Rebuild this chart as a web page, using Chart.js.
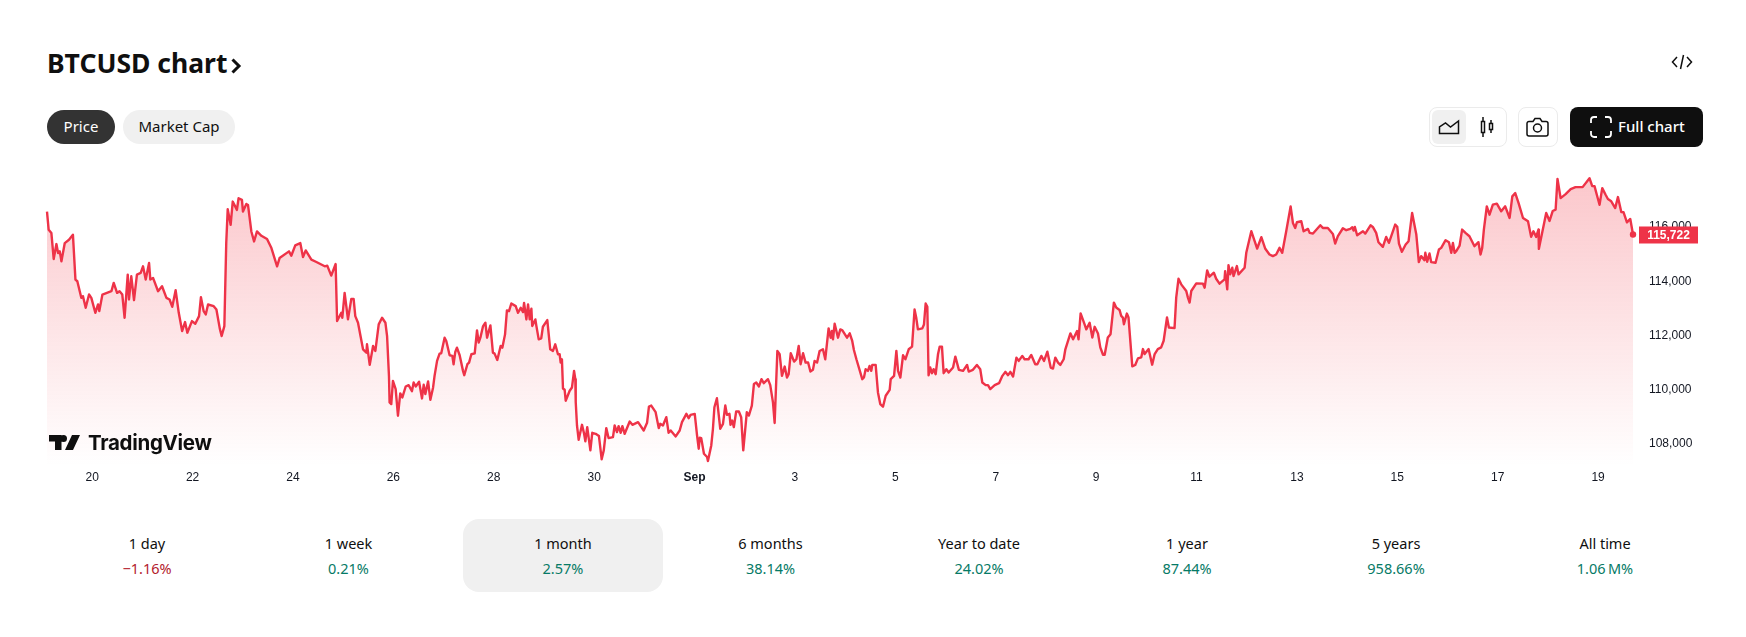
<!DOCTYPE html>
<html lang="en">
<head>
<meta charset="utf-8">
<title>BTCUSD chart</title>
<script src="https://cdn.jsdelivr.net/npm/chart.js@4"></script>
<style>
  html, body { margin: 0; background: #fff; }
  body { position: relative; width: 1746px; height: 637px; overflow: hidden; font-family: "Noto Sans", sans-serif; color: #0f0f0f; }
  .abs { position: absolute; }
  h1 { position: absolute; left: 47px; top: 44px; margin: 0; font-size: 26.5px; line-height: 38px; font-weight: 700; white-space: nowrap; }
  .pill { position: absolute; top: 110px; height: 34px; line-height: 33px; border-radius: 17px; text-align: center; font-size: 15px; }
  .box { position: absolute; top: 107px; height: 38px; border: 1px solid #ebebeb; border-radius: 8px; background: #fff; }
  #full { position: absolute; left: 1570px; top: 107px; width: 133px; height: 40px; border-radius: 8px; background: #0f0f0f; color: #fff; font-size: 15px; font-weight: 500; line-height: 39px; }
  #full span { position: absolute; left: 48px; }
  #chart { position: absolute; left: 0; top: 140px; }
  #logo { position: absolute; left: 49px; top: 429px; height: 26px; display: flex; align-items: center; }
  #logo span { font-family: Inter, sans-serif; font-weight: 700; font-size: 20.5px; letter-spacing: -0.3px; margin-left: 8px; }
  #active { position: absolute; left: 463px; top: 519px; width: 200px; height: 73px; border-radius: 16px; background: #f0f0f0; }
  .period { position: absolute; top: 531px; width: 200px; text-align: center; font-size: 14.5px; line-height: 25px; white-space: nowrap; }
  .period b { display: block; font-weight: 400; }
  .up { color: #067a66; }
  .down { color: #b3202c; }
</style>
</head>
<body>
<h1>BTCUSD chart</h1>
<svg class="abs" style="left:230px;top:55px" width="12" height="22" viewBox="0 0 12 22"><path d="M2.500 4.500 9 11l-6.500 6.500" fill="none" stroke="#0f0f0f" stroke-width="3"/></svg>
<svg class="abs" style="left:1671px;top:52px" width="22" height="20" viewBox="0 0 22 20" fill="none" stroke="#0f0f0f" stroke-width="1.5"><path d="M6 5 1.500 10 6 15M16 5l4.500 5L16 15M12.500 3l-3 14"/></svg>

<div class="pill" style="left:47px;width:68px;background:#333;color:#fff">Price</div>
<div class="pill" style="left:123px;width:112px;background:#f0f0f0">Market Cap</div>

<div class="box" style="left:1429px;width:76px"></div>
<div class="abs" style="left:1432px;top:110px;width:34px;height:34px;border-radius:6px;background:#f0f0f0"></div>
<svg class="abs" style="left:1438px;top:118px" width="22" height="18" viewBox="0 0 22 18" fill="none" stroke="#0f0f0f" stroke-width="1.5"><path d="M1.500 15.500V9l6-4 5 4 8-6v12.500z"/></svg>
<svg class="abs" style="left:1479px;top:116px" width="16" height="22" viewBox="0 0 16 22" fill="none" stroke="#0f0f0f" stroke-width="1.500"><path d="M2.500 5.500h3v11h-3zM4 1v4.500M4 16.500V21M10.500 7.500h3v6h-3zM12 4v3.500M12 13.500V17"/></svg>
<div class="box" style="left:1518px;width:38px"></div>
<svg class="abs" style="left:1526px;top:117px" width="23" height="20" viewBox="0 0 23 20" fill="none" stroke="#0f0f0f" stroke-width="1.500"><path d="M3 4.500h4l2-3h5l2 3h4a2 2 0 0 1 2 2V17a2 2 0 0 1-2 2H3a2 2 0 0 1-2-2V6.500a2 2 0 0 1 2-2z"/><circle cx="11.500" cy="11" r="4"/></svg>
<div id="full">
  <svg class="abs" style="left:20px;top:9px" width="22" height="22" viewBox="0 0 22 22" fill="none" stroke="#fff" stroke-width="1.800"><path d="M1 7V4a3 3 0 0 1 3-3h3M15 1h3a3 3 0 0 1 3 3v3M21 15v3a3 3 0 0 1-3 3h-3M7 21H4a3 3 0 0 1-3-3v-3"/></svg>
  <span>Full chart</span>
</div>

<canvas id="chart" width="1746" height="352"></canvas>

<div id="logo">
  <svg width="31" height="15" viewBox="0 0 31 15" fill="#0f0f0f"><path d="M0 0h12.500v15H6V6.500H0zM14.500 0a3.500 3.500 0 1 1 0 7 3.500 3.500 0 0 1 0-7zM23 0h8l-7 15h-8z"/></svg>
  <span>TradingView</span>
</div>

<div id="active"></div>
<div id="periods"></div>

<script>
// hours counted from 19 Aug 00:00
const hours = [
  2.4, 3.2, 4.5, 5.6, 6.9, 7.7, 8.5, 9.3, 10.9, 12.9, 14.8, 16, 16.9, 18.8, 19.6, 20.9, 22.5, 23.6, 25.5, 26.8,
  27.4, 28.9, 33.2, 34.3, 35.9, 37.1, 38.4, 39.5, 41, 41.6, 42.7, 44, 45.4, 47.2, 48.3, 49.6, 51.2, 51.8, 53.1, 55.5,
  57.4, 59.5, 61, 62.3, 63.9, 65.4, 67, 68.4, 69.5, 71.7, 73.3, 75.1, 76, 77.3, 78.3, 79.4, 82.1, 83.4, 85, 85.9,
  87.2, 88.1, 88.8, 90.2, 91.2, 93.2, 94, 95.6, 96.1, 97.7, 98.5, 100.1, 101.4, 102.8, 104.9, 107.6, 109.7, 112.4, 113.6, 118.1,
  119.2, 121.1, 123.5, 124.8, 126.1, 128.8, 131.2, 135.2, 136.4, 138.3, 140.4, 141.1, 143.1, 143.6, 144.7, 146.3, 147.9, 149, 149.8, 151.1,
  153.5, 155.1, 155.4, 156.7, 158.3, 159.4, 161, 162.6, 164.2, 165, 165.9, 166.2, 167, 167.8, 169.1, 170.2, 171.3, 172.3, 173.9, 175.3,
  176.9, 177.7, 178.7, 180.3, 181.7, 182.5, 183.3, 184.6, 185.7, 187, 187.7, 188.9, 190.1, 190.9, 192.5, 193.3, 194.9, 196.2, 196.8, 197.6,
  198.4, 199.7, 201.3, 201.9, 203.4, 204.2, 205.3, 206.9, 208, 208.8, 209.6, 210.9, 212, 212.8, 214.4, 215.6, 216.4, 217.7, 219.3, 220.1,
  221.4, 222.3, 223.3, 224.4, 226.5, 227.6, 228.9, 230, 230.5, 231.6, 232.4, 233.2, 234, 234.4, 235.9, 236.4, 237.5, 238.7, 239.5, 241.6,
  243, 244.3, 245.4, 246.7, 247.5, 248, 248.6, 249.1, 249.9, 250.4, 252.3, 253.4, 254.4, 255, 255.2, 255.8, 256.6, 258.2, 259.2, 259.8,
  260.7, 262.2, 263.1, 264.7, 266.3, 267.6, 268.6, 269.8, 270.9, 273, 273.8, 274.9, 275.7, 276.7, 277.5, 278.6, 281, 282.3, 285, 287.7,
  289.3, 290.2, 291.3, 293.4, 294.9, 295.6, 296.9, 298.5, 299.6, 300.6, 303, 304.9, 306, 308.1, 309.2, 310.1, 312.1, 313.2, 314, 314.5,
  315.2, 316.5, 318, 318.4, 320, 320.8, 321.5, 322.7, 324.3, 325.6, 326.7, 327.5, 328.7, 329.2, 330, 330.8, 331.9, 333.2, 334.3, 335.3,
  337, 338, 339.4, 340.4, 341.5, 342.8, 344, 345.1, 347.1, 348.2, 349.5, 350.3, 351.6, 352.7, 353.8, 355.1, 356.2, 357, 358, 359.6,
  360.7, 361.8, 362.7, 363.9, 365.1, 366.3, 367.4, 368.6, 369.4, 370.6, 371.8, 373.4, 374.5, 376.1, 377.1, 377.7, 378.2, 379, 380.6, 381.7,
  382.7, 384.9, 386.2, 387.4, 388.2, 389.4, 392.2, 393, 393.8, 394.9, 395.7, 396.5, 397, 398.6, 399.7, 400.8, 402.1, 403.4, 405.3, 405.8,
  407.4, 408.5, 409.3, 410.4, 411.7, 412.8, 414.4, 416, 417.2, 418, 418.8, 420.9, 421.7, 422.5, 423.3, 423.9, 424.7, 425.5, 426.3, 427.3,
  428.4, 429.2, 430.3, 431.1, 432.4, 433.5, 435.6, 436.7, 438.4, 440.4, 442.3, 443.1, 445.1, 447, 448.6, 449.6, 451.2, 452.3, 453.4, 455.5,
  457.6, 459.2, 460.6, 461.9, 463, 464.3, 465.9, 467, 468.7, 469.8, 471.7, 473, 474.9, 475.9, 477.8, 479.1, 480.7, 482.3, 483.4, 484.5,
  485.8, 486.9, 488.5, 489.3, 491.7, 493, 494.9, 495.6, 496.6, 498.5, 499.3, 500.9, 502.2, 503.3, 504.9, 506, 507.3, 508.1, 509.6, 510.9,
  512.5, 513.6, 515.2, 516, 516.8, 517.3, 518.7, 519.5, 521.3, 522.7, 524, 525.6, 526.4, 527.2, 529.1, 530.8, 532, 533.5, 535.1, 536.3,
  537.9, 538.8, 541.5, 542.3, 543.4, 544.7, 547.1, 547.9, 548.7, 549.5, 551.9, 555.1, 555.9, 557.1, 558.2, 560.3, 561.4, 563, 565.4, 565.7,
  566.7, 567.3, 568.1, 569.1, 569.7, 571.3, 572.1, 575, 575.8, 578.2, 579.8, 581, 583, 584.9, 586.9, 588.5, 590.1, 591.7, 593, 594.9,
  597, 598.1, 599.2, 600, 602.1, 603.2, 605.3, 606.1, 607.7, 611.2, 612.4, 614.8, 617.2, 618.3, 619.6, 622, 623.6, 625.5, 626.5, 627.1,
  627.7, 628.8, 631.6, 632.7, 635.2, 636.3, 637.9, 639, 641.1, 642.7, 644, 647, 648, 648.8, 650.2, 652, 653.4, 655.1, 657.1, 658.3,
  659.4, 661, 661.4, 662.3, 663.4, 664.2, 666.3, 667.9, 669, 671.1, 672.7, 673.8, 674.6, 675.4, 676.2, 677.8, 679, 680.6, 682.5, 684.9,
  686.8, 687.8, 688.6, 689.4, 690.8, 692.1, 693.7, 695.6, 697.7, 699.6, 701.7, 703, 704.4, 706, 708.1, 710.5, 712, 713.1, 714.4, 715.5,
  715.7, 719.2, 720.8, 722.3, 723.7, 724.6, 726.1, 728.5, 730.9, 733.2, 736.6, 739.9, 741.2, 742.3, 743.4, 744.7, 746, 747.6, 748.7, 750.3,
  752.2, 753.5, 755.1, 756.2, 757.8, 759.4, 760.7
];

const prices = [
  116568, 115895, 115773, 114819, 115369, 115039, 115100, 114733, 115406, 115528, 115712, 114060, 113999, 113388, 113449, 113021, 113510, 113388, 112837, 113143,
  112899, 113510, 113632, 113938, 113571, 113632, 113510, 112654, 114244, 113327, 114183, 113302, 114244, 114305, 114550, 114060, 114672, 114060, 114122, 113632,
  113816, 113388, 113327, 113057, 113669, 112837, 112165, 112495, 112104, 112532, 112434, 112715, 113412, 112899, 112776, 113143, 113082, 112960, 112263, 111981,
  112348, 115406, 116653, 116078, 116935, 116629, 117057, 116996, 116568, 116849, 116812, 115834, 115467, 115834, 115675, 115553, 115222, 114550, 114855, 115100,
  114941, 115320, 115406, 114892, 115137, 114794, 114709, 114550, 114574, 114207, 114635, 112532, 112837, 112654, 113571, 112593, 113351, 113351, 112715, 112471,
  111492, 111370, 111676, 110917, 111615, 111431, 112409, 112654, 112471, 111981, 110514, 109535, 109475, 110330, 110025, 109046, 109866, 109719, 110122, 110171,
  109951, 110269, 110122, 110294, 109682, 110184, 109841, 110306, 109633, 110086, 110514, 111064, 111333, 111345, 111920, 111798, 111272, 111248, 110942, 111394,
  111553, 111272, 110697, 110538, 110942, 111003, 111309, 111345, 112189, 111737, 111920, 112348, 112471, 111920, 112373, 111370, 111333, 111101, 111615, 111553,
  112042, 112923, 112899, 113180, 113082, 112837, 113021, 112862, 113204, 112593, 113143, 112593, 112984, 112348, 112593, 112348, 111859, 111896, 112324, 112568,
  111492, 111431, 111676, 111309, 111309, 111003, 111125, 110049, 110000, 109597, 109963, 110086, 110697, 110392, 109541, 108685, 108159, 108709, 108379, 108098,
  108624, 107768, 108416, 108379, 108294, 107437, 107768, 108587, 108220, 108257, 108685, 108440, 108660, 108416, 108660, 108379, 108832, 108709, 108807, 108501,
  108783, 109382, 109419, 109174, 108587, 108746, 108685, 108991, 108416, 108501, 108281, 108501, 108807, 109113, 108954, 109076, 109113, 108318, 107829, 108232,
  108220, 107645, 107523, 107376, 107951, 108563, 109358, 109688, 108563, 108746, 109419, 109076, 109113, 108710, 108868, 108624, 109199, 109199, 108991, 107768,
  109174, 109052, 109419, 110214, 110269, 110122, 110392, 110245, 110392, 110171, 109535, 108777, 111431, 111309, 110514, 110856, 110453, 110575, 111345, 111040,
  111125, 111615, 110942, 111345, 111003, 111003, 110673, 110734, 111064, 111003, 111431, 111492, 111125, 112263, 111920, 112165, 111859, 112434, 111920, 112226,
  112189, 111920, 112079, 111798, 111468, 111125, 110392, 110453, 110758, 110697, 110881, 110697, 110917, 110917, 109902, 109474, 109376, 109780, 110000, 110392,
  110514, 111431, 110697, 110453, 111272, 111125, 111492, 111590, 112960, 112654, 112226, 112263, 112409, 113180, 113058, 110538, 110820, 110612, 110758, 110575,
  111309, 111590, 111590, 110612, 110758, 110636, 110820, 111223, 110734, 110697, 110917, 110673, 110734, 110917, 110758, 110269, 110171, 110171, 110025, 110171,
  110245, 110514, 110660, 110538, 110660, 110489, 111186, 111064, 111248, 111125, 111125, 111284, 110942, 110942, 111248, 111064, 111406, 110820, 110783, 111186,
  111003, 110917, 111125, 111492, 112079, 111859, 112165, 111859, 112813, 112409, 112226, 112471, 111928, 112320, 112075, 111561, 111292, 111292, 111928, 112050,
  113212, 113029, 112943, 112723, 112662, 112417, 112809, 112662, 110864, 110913, 111158, 111195, 111500, 111317, 111500, 110925, 111317, 111500, 111561, 111806,
  112662, 112295, 112271, 113396, 114093, 113885, 113640, 113396, 113212, 113640, 113922, 113910, 113763, 114399, 114166, 114313, 114093, 113910, 114069, 114374,
  113702, 114594, 114252, 114497, 114191, 114558, 114252, 114497, 115047, 115842, 115475, 115206, 115622, 115194, 114986, 114925, 114986, 115230, 115047, 115842,
  116759, 116148, 115964, 116172, 116209, 115842, 115928, 115781, 115756, 116062, 115964, 115964, 115744, 115389, 115659, 115952, 115879, 115928, 115989, 115866,
  116001, 115695, 115842, 115756, 116062, 116001, 115781, 115438, 115267, 115634, 115414, 116087, 116001, 115389, 115084, 115353, 115475, 116515, 115720, 114705,
  114925, 114778, 115047, 114717, 115023, 114705, 114680, 115169, 115230, 115512, 115438, 115047, 115414, 115047, 115108, 115316, 115903, 115781, 115658, 115292,
  115438, 114986, 115230, 115903, 116759, 116453, 116820, 116857, 116576, 116759, 116331, 117126, 117248, 116881, 116331, 116209, 115634, 115842, 115634, 115903,
  115193, 116514, 116220, 116587, 116635, 117773, 117064, 117211, 117395, 117468, 117468, 117798, 117505, 117505, 117185, 116818, 117431, 117185, 117028, 116943,
  116697, 117101, 116550, 116540, 116172, 116294, 115722
];

const tickHours = [24, 72, 120, 168, 216, 264, 312, 360, 408, 456, 504, 552, 600, 648, 696, 744];
const tickLabels = ["20", "22", "24", "26", "28", "30", "Sep", "3", "5", "7", "9", "11", "13", "15", "17", "19"];
const priceTicks = [108000, 110000, 112000, 114000, 116000];

const periodNames = ["1 day", "1 week", "1 month", "6 months", "Year to date", "1 year", "5 years", "All time"];
const periodChanges = ["\u22121.16%", "0.21%", "2.57%", "38.14%", "24.02%", "87.44%", "958.66%", "1.06\u2009M%"];
const periodCentres = [147, 348.5, 563, 770.5, 979, 1187, 1396, 1605];

const RED = "#ee3348";
const AXIS_FONT = "Liberation Sans";

periodNames.forEach((name, i) => {
  const el = document.createElement("div");
  el.className = "period";
  el.style.left = `${periodCentres[i] - 100}px`;
  const change = periodChanges[i];
  el.innerHTML = `<b>${name}</b><span class="${change.startsWith("\u2212") ? "down" : "up"}">${change}</span>`;
  document.getElementById("periods").appendChild(el);
});

const priceTag = {
  id: "priceTag",
  afterDatasetsDraw(chart) {
    const ctx = chart.ctx;
    const value = prices[prices.length - 1];
    const y = chart.scales.y.getPixelForValue(value);
    const left = chart.chartArea.right + 6;
    ctx.save();
    ctx.fillStyle = RED;
    ctx.fillRect(left, y - 8, 59, 17);
    ctx.fillStyle = "#fff";
    ctx.font = `bold 12px "${AXIS_FONT}"`;
    ctx.textAlign = "center";
    ctx.textBaseline = "middle";
    ctx.fillText(value.toLocaleString("en-US"), left + 29.5, y + 1);
    ctx.restore();
  }
};

new Chart(document.getElementById("chart"), {
  type: "line",
  data: {
    datasets: [{
      data: hours.map((h, i) => ({ x: h, y: prices[i] })),
      borderColor: RED,
      borderWidth: 2.4,
      borderJoinStyle: "round",
      tension: 0,
      clip: false,
      fill: "start",
      backgroundColor(ctx) {
        const area = ctx.chart.chartArea;
        if (!area) return "transparent";
        const gradient = ctx.chart.ctx.createLinearGradient(0, area.top + 15, 0, area.bottom);
        gradient.addColorStop(0, "rgba(242,54,69,0.28)");
        gradient.addColorStop(1, "rgba(242,54,69,0)");
        return gradient;
      },
      pointRadius: (ctx) => (ctx.dataIndex === prices.length - 1 ? 3.2 : 0),
      pointBackgroundColor: RED,
      pointBorderWidth: 0
    }]
  },
  options: {
    responsive: false,
    animation: false,
    events: [],
    layout: { padding: { left: 47, top: 10, right: 0, bottom: 0 } },
    plugins: { legend: { display: false }, tooltip: { enabled: false } },
    scales: {
      x: {
        type: "linear",
        min: 2.4,
        max: 760.7,
        grid: { display: false, drawTicks: false },
        border: { display: false },
        afterBuildTicks(scale) { scale.ticks = tickHours.map((value) => ({ value })); },
        afterFit(scale) { scale.height = 26; },
        ticks: {
          autoSkip: false,
          maxRotation: 0,
          padding: 4,
          color: "#131722",
          font: (ctx) => ({ family: AXIS_FONT, size: 12, weight: ctx.index === 6 ? "bold" : "normal" }),
          callback: (value) => tickLabels[tickHours.indexOf(value)]
        }
      },
      y: {
        position: "right",
        min: 107192,
        max: 118349,
        grid: { display: false, drawTicks: false },
        border: { display: false },
        afterBuildTicks(scale) { scale.ticks = priceTicks.map((value) => ({ value })); },
        afterFit(scale) { scale.width = 113; },
        ticks: {
          padding: 16,
          color: "#131722",
          font: { family: AXIS_FONT, size: 12 },
          callback: (value) => value.toLocaleString("en-US")
        }
      }
    }
  },
  plugins: [priceTag]
});
</script>
</body>
</html>
